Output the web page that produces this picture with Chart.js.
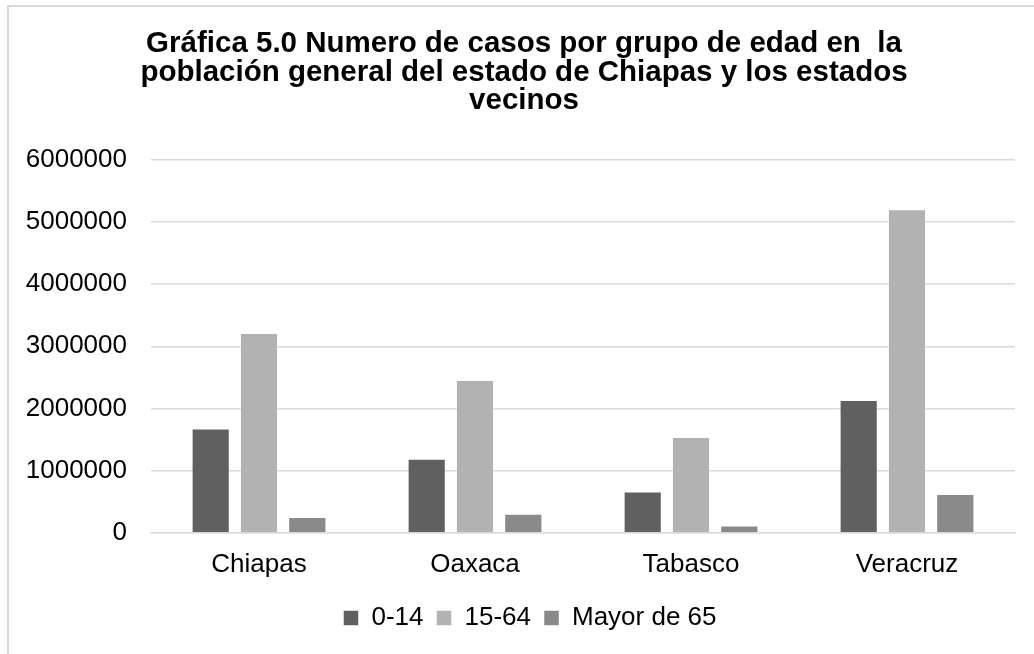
<!DOCTYPE html>
<html>
<head>
<meta charset="utf-8">
<script src="https://cdn.jsdelivr.net/npm/chart.js@4"></script>
<style>
  html, body { margin: 0; padding: 0; background: #ffffff; overflow: hidden; }
  #wrap { position: relative; width: 1034px; height: 654px; }
  #marco { position: absolute; left: 7px; top: 5px; width: 1100px; height: 700px; border: 2px solid #d9d9d9; }
  #grafica { position: absolute; left: 0; top: 0; }
</style>
</head>
<body>
<div id="wrap">
  <div id="marco"></div>
  <canvas id="grafica" width="1034" height="654"></canvas>
</div>
<script>
"use strict";

const estados = ["Chiapas", "Oaxaca", "Tabasco", "Veracruz"];
const grupo0a14 = [1676000, 1191000, 663000, 2135000];
const grupo15a64 = [3213000, 2458000, 1542000, 5202000];
const mayor65 = [253000, 307000, 119000, 625000];
const ticksY = [0, 1000000, 2000000, 3000000, 4000000, 5000000, 6000000];

const tituloLineas = [
  "Gráfica 5.0 Numero de casos por grupo de edad en  la",
  "población general del estado de Chiapas y los estados",
  "vecinos"
];

const fuente = "'Liberation Sans', Arial, sans-serif";

// titulo y leyenda centrados un poco mas a la derecha, como en el original
const desplazar = {
  id: "desplazar",
  afterLayout(chart) {
    chart.titleBlock.left += 24;
    chart.legend.left += 36;
    chart.legend.top -= 4;
  }
};

new Chart(document.getElementById("grafica").getContext("2d"), {
  type: "bar",
  data: {
    labels: estados,
    datasets: [
      { label: "0-14",        data: grupo0a14,  backgroundColor: "#606060", borderColor: "rgba(255,255,255,0.5)", borderWidth: 1 },
      { label: "15-64",       data: grupo15a64, backgroundColor: "#b2b2b2", borderColor: "rgba(255,255,255,0.5)", borderWidth: 1 },
      { label: "Mayor de 65", data: mayor65,    backgroundColor: "#8a8a8a", borderColor: "rgba(255,255,255,0.5)", borderWidth: 1 }
    ]
  },
  options: {
    responsive: false,
    animation: false,
    devicePixelRatio: 1,
    categoryPercentage: 0.671,
    barPercentage: 0.79,
    layout: { padding: { left: 9, right: 19, top: 0, bottom: 9 } },
    plugins: {
      tooltip: { enabled: false },
      title: {
        display: true,
        text: tituloLineas,
        color: "#000000",
        font: { family: fuente, size: 29.5, weight: "bold", lineHeight: 0.98 },
        padding: { top: 29, bottom: 44 }
      },
      legend: {
        position: "bottom",
        labels: {
          color: "#000000",
          font: { family: fuente, size: 26 },
          boxWidth: 15,
          boxHeight: 15,
          padding: 13
        }
      }
    },
    scales: {
      x: {
        grid: { display: false, drawTicks: false },
        border: { display: true, color: "#d9d9d9", width: 1.5 },
        ticks: { color: "#000000", font: { family: fuente, size: 26 }, padding: 16 }
      },
      y: {
        min: 0,
        max: 6000000,
        afterBuildTicks: axis => { axis.ticks = ticksY.map(v => ({ value: v })); },
        afterFit: axis => { axis.width = 142; },
        grid: { color: "#d9d9d9", lineWidth: 1.5, drawTicks: false },
        border: { display: false },
        ticks: { color: "#000000", font: { family: fuente, size: 26 }, padding: 24, callback: v => String(v) }
      }
    }
  },
  plugins: [desplazar]
});
</script>
</body>
</html>
